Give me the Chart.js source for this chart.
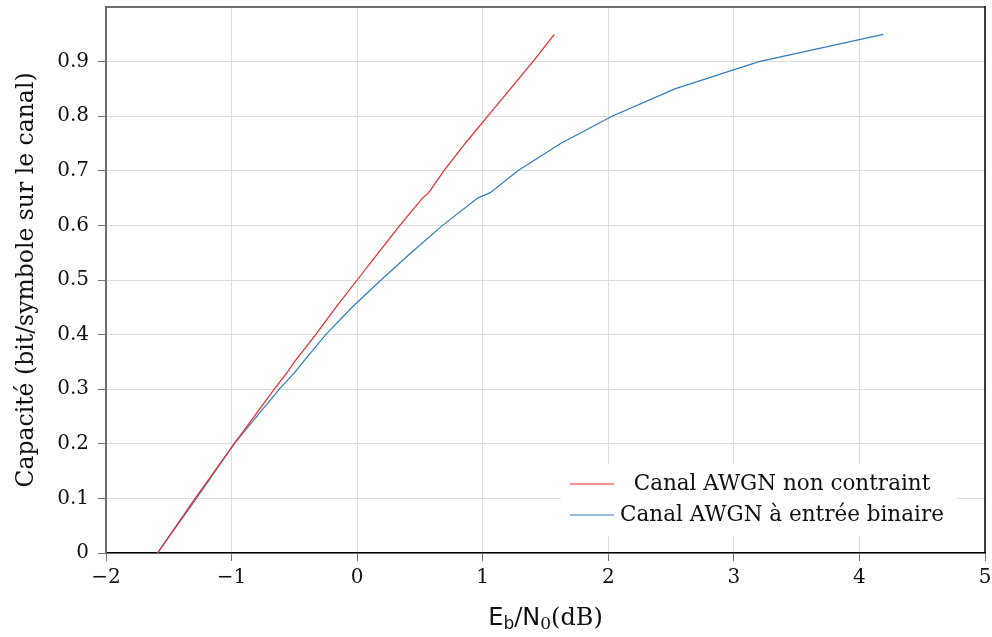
<!DOCTYPE html>
<html>
<head>
<meta charset="utf-8">
<script src="https://cdn.jsdelivr.net/npm/chart.js@4"></script>
<style>
  html, body { margin: 0; padding: 0; background: #fff; }
</style>
</head>
<body>
<canvas id="chart" width="992" height="637"></canvas>
<script>
// capacity levels (bit/symbol) at which both curves were sampled
const capacity = [0, 0.1, 0.2, 0.3, 0.33, 0.35, 0.4, 0.45, 0.5, 0.55, 0.6, 0.65, 0.66, 0.7, 0.75, 0.8, 0.85, 0.9, 0.95]
// Eb/N0 (dB) for each curve
const awgnEbN0 = [-1.59, -1.29, -0.98, -0.66, -0.56, -0.50, -0.33, -0.17, 0.0, 0.17, 0.34, 0.52, 0.57, 0.69, 0.86, 1.04, 1.22, 1.40, 1.57]
const binaryEbN0 = [-1.59, -1.28, -0.98, -0.62, -0.50, -0.43, -0.25, -0.04, 0.19, 0.43, 0.68, 0.96, 1.06, 1.28, 1.62, 2.03, 2.53, 3.20, 4.19]
const seriesLabels = ['Canal AWGN non contraint', 'Canal AWGN à entrée binaire']
const seriesColors = ['#e8282e', '#2f7dbf']

const serif = "'DejaVu Serif', serif"
const sans = "'DejaVu Sans', sans-serif"

const toPoints = xs => xs.map((x, i) => ({ x: x, y: capacity[i] }))
const fmtMinus = v => (v < 0 ? '\u2212' + Math.abs(v) : String(v))

const decorations = {
  id: 'decorations',
  afterDraw(chart) {
    const { ctx, chartArea: a } = chart
    ctx.save()

    // top and right frame lines
    ctx.strokeStyle = '#6e6e6e'
    ctx.lineWidth = 2
    ctx.beginPath(); ctx.moveTo(a.left - 1, a.top); ctx.lineTo(a.right, a.top); ctx.stroke()
    ctx.strokeStyle = '#000'
    ctx.lineWidth = 1.5
    ctx.beginPath(); ctx.moveTo(a.right, a.top - 1); ctx.lineTo(a.right, a.bottom); ctx.stroke()

    // legend box, bottom right inside plot
    const bx = a.right - 424, by = a.bottom - 89, bw = 397, bh = 72
    ctx.fillStyle = '#fff'
    ctx.fillRect(bx, by, bw, bh)
    ctx.font = '21.5px ' + serif
    ctx.textAlign = 'center'
    ctx.textBaseline = 'middle'
    seriesLabels.forEach((lbl, i) => {
      const y = by + 20 + i * 31
      ctx.strokeStyle = seriesColors[i]
      ctx.lineWidth = 1
      ctx.beginPath(); ctx.moveTo(bx + 9, y); ctx.lineTo(bx + 53, y); ctx.stroke()
      ctx.fillStyle = '#111'
      ctx.fillText(lbl, bx + 221, y)
    })

    // y axis title
    ctx.save()
    ctx.translate(27, (a.top + a.bottom) / 2)
    ctx.rotate(-Math.PI / 2)
    ctx.font = '23.5px ' + serif
    ctx.fillStyle = '#111'
    ctx.textAlign = 'center'
    ctx.textBaseline = 'middle'
    ctx.fillText('Capacité (bit/symbole sur le canal)', 0, 0)
    ctx.restore()

    // x axis title: E_b / N_0 (dB)
    const parts = [
      { t: 'E', f: '24px ' + sans, dy: 0 },
      { t: 'b', f: '17px ' + sans, dy: 4 },
      { t: '/', f: '24px ' + serif, dy: 0 },
      { t: 'N', f: '24px ' + sans, dy: 0 },
      { t: '0', f: '17px ' + serif, dy: 4 },
      { t: '(dB)', f: '24px ' + serif, dy: 0 }
    ]
    let total = 0
    parts.forEach(p => { ctx.font = p.f; p.w = ctx.measureText(p.t).width; total += p.w })
    let x = (a.left + a.right) / 2 - total / 2
    const base = 625
    ctx.textAlign = 'left'
    ctx.textBaseline = 'alphabetic'
    ctx.fillStyle = '#111'
    parts.forEach(p => { ctx.font = p.f; ctx.fillText(p.t, x, base + p.dy); x += p.w })

    ctx.restore()
  }
}

new Chart(document.getElementById('chart'), {
  type: 'scatter',
  data: {
    datasets: [
      {
        label: seriesLabels[0],
        data: toPoints(awgnEbN0),
        showLine: true,
        borderColor: seriesColors[0],
        borderWidth: 1.2,
        pointRadius: 0,
        tension: 0
      },
      {
        label: seriesLabels[1],
        data: toPoints(binaryEbN0),
        showLine: true,
        borderColor: seriesColors[1],
        borderWidth: 1.2,
        pointRadius: 0,
        tension: 0
      }
    ]
  },
  options: {
    responsive: false,
    animation: false,
    layout: { padding: { top: 7, right: 7, left: 0, bottom: 0 } },
    plugins: {
      legend: { display: false },
      tooltip: { enabled: false }
    },
    scales: {
      x: {
        type: 'linear',
        min: -2,
        max: 5,
        afterFit: s => { s.height = 84; s.paddingLeft = 0; s.paddingRight = 0 },
        ticks: {
          stepSize: 1,
          padding: 5,
          color: '#111',
          font: { family: serif, size: 20 },
          callback: v => fmtMinus(v)
        },
        grid: { color: '#dcdcdc', tickColor: '#777', tickLength: 8 },
        border: { color: '#000', width: 1.5 }
      },
      y: {
        min: 0,
        max: 1,
        afterFit: s => { s.width = 106; s.paddingTop = 0; s.paddingBottom = 0 },
        ticks: {
          stepSize: 0.1,
          padding: 9,
          color: '#111',
          font: { family: serif, size: 20 },
          callback: v => (v >= 0.999 ? '' : String(Math.round(v * 10) / 10))
        },
        grid: {
          color: c => (c.tick && c.tick.value >= 0.999 ? 'rgba(0,0,0,0)' : '#dcdcdc'),
          tickColor: c => (c.tick && c.tick.value >= 0.999 ? 'rgba(0,0,0,0)' : '#777'),
          tickLength: 8
        },
        border: { color: '#6e6e6e', width: 2 }
      }
    }
  },
  plugins: [decorations]
})
</script>
</body>
</html>
